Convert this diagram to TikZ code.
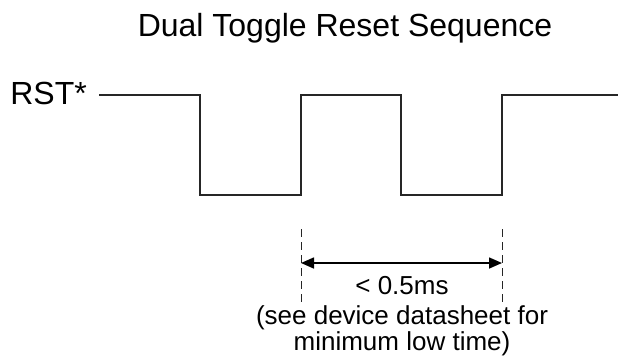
\documentclass[tikz,border=0pt]{standalone}
\usepackage{fontspec}
\setmainfont{Liberation Sans}
\usetikzlibrary{arrows.meta}
\tikzset{
  titletext/.style={inner sep=0pt, font=\fontsize{32}{32}\selectfont},
  sigtext/.style={inner sep=0pt, font=\fontsize{32}{32}\selectfont},
  notetext/.style={inner sep=0pt, align=center, font=\fontsize{26}{26}\selectfont},
  wave/.style={line width=1.6pt, draw=black!85, line join=miter},
  guide/.style={line width=1pt, draw=black!85, dash pattern=on 8pt off 5pt},
  span/.style={line width=1.6pt, draw=black, {Triangle[length=13pt,width=11pt]}-{Triangle[length=13pt,width=11pt]}}
}
\begin{document}
\begin{tikzpicture}[x=1pt,y=-1pt]
\useasboundingbox[fill=white] (0,0) rectangle (626,360);
\node[titletext, anchor=base] (title) at (345,36) {Dual Toggle Reset Sequence};
\node[sigtext, anchor=base east] (rst) at (87,104) {RST*};
% waveform corners
\coordinate (w0) at (99,95);
\coordinate (w1) at (200,95);
\coordinate (w2) at (200,195);
\coordinate (w3) at (301,195);
\coordinate (w4) at (301,95);
\coordinate (w5) at (401,95);
\coordinate (w6) at (401,195);
\coordinate (w7) at (502,195);
\coordinate (w8) at (502,95);
\coordinate (w9) at (618,95);
\draw[wave] (w0) -- (w1) -- (w2) -- (w3) -- (w4) -- (w5) -- (w6) -- (w7) -- (w8) -- (w9);
% dimension guides
\coordinate (g1a) at (301,229);
\coordinate (g1b) at (301,302);
\coordinate (g2a) at (502,229);
\coordinate (g2b) at (502,302);
\draw[guide] (g1a) -- (g1b);
\draw[guide] (g2a) -- (g2b);
\coordinate (s1) at (301,263);
\coordinate (s2) at (502,263);
\draw[span] (s1) -- (s2);
\node[notetext, anchor=base] (dur) at (402,294) {< 0.5ms};
\node[notetext, anchor=base] (note1) at (402,324) {(see device datasheet for};
\node[notetext, anchor=base] (note2) at (402,350) {minimum low time)};
\end{tikzpicture}
\end{document}
